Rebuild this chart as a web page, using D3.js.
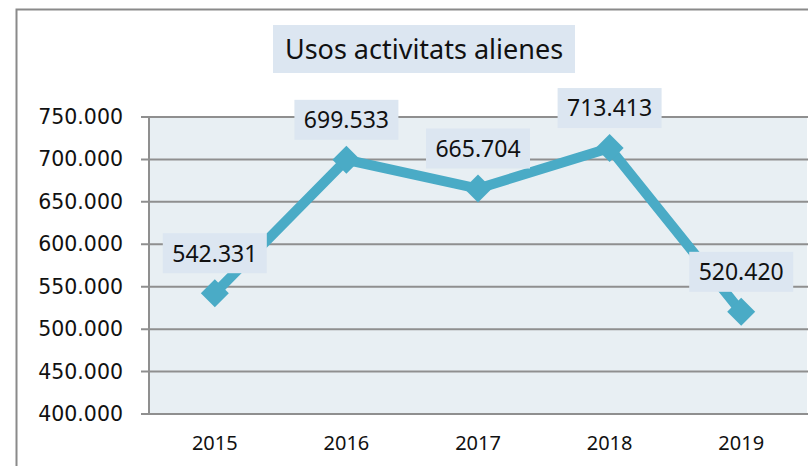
<!DOCTYPE html>
<html>
<head>
<meta charset="utf-8">
<script src="https://cdn.jsdelivr.net/npm/d3@7"></script>
<style>
  body { margin: 0; background: #fff; }
  svg { display: block; }
</style>
</head>
<body>
<script>
var years = ["2015", "2016", "2017", "2018", "2019"];
var usos = [542331, 699533, 665704, 713413, 520420];
var yTicks = [400000, 450000, 500000, 550000, 600000, 650000, 700000, 750000];
var title = "Usos activitats alienes";

var W = 808, H = 466;
var margin = {top: 117, right: 1, bottom: 52, left: 149};

// thousands with a dot, like the original
var fmt = function (v) { return d3.format(",")(v).replace(/,/g, "."); };

var svg = d3.select("body").append("svg")
    .attr("width", W)
    .attr("height", H);

// chart frame (runs off the right/bottom edge)
svg.append("rect")
    .attr("x", 16.5).attr("y", 9.5)
    .attr("width", W + 20).attr("height", H + 20)
    .attr("fill", "#fff")
    .attr("stroke", "#8a8a8a")
    .attr("stroke-width", 2);

var x = d3.scaleBand()
    .domain(years)
    .range([margin.left, W - margin.right]);

var y = d3.scaleLinear()
    .domain([400000, 750000])
    .range([H - margin.bottom, margin.top]);

// plot area
svg.append("rect")
    .attr("x", margin.left).attr("y", margin.top)
    .attr("width", W - margin.right - margin.left)
    .attr("height", y(400000) - y(750000))
    .attr("fill", "#e8eff3");

// gridlines + tick stubs
svg.append("g")
    .selectAll("line")
    .data(yTicks)
    .enter().append("line")
    .attr("x1", margin.left - 8)
    .attr("x2", W)
    .attr("y1", function (d) { return y(d); })
    .attr("y2", function (d) { return y(d); })
    .attr("stroke", "#8f8f8f")
    .attr("stroke-width", 2);

svg.append("line")
    .attr("x1", margin.left).attr("x2", margin.left)
    .attr("y1", y(750000)).attr("y2", y(400000))
    .attr("stroke", "#8f8f8f")
    .attr("stroke-width", 2);

// y labels
var gy = svg.append("g")
    .attr("transform", "translate(" + (margin.left - 26) + ",0)")
    .call(d3.axisLeft(y).tickValues(yTicks).tickSize(0).tickPadding(0).tickFormat(fmt));
gy.select(".domain").remove();
gy.selectAll("text")
    .attr("font-family", "DejaVu Sans")
    .attr("font-size", 20.5)
    .attr("fill", "#111");

// x labels
var gx = svg.append("g")
    .attr("transform", "translate(0," + (y(400000) + 22) + ")")
    .call(d3.axisBottom(x).tickSize(0).tickPadding(0));
gx.select(".domain").remove();
gx.selectAll("text")
    .attr("font-family", "Noto Sans")
    .attr("font-size", 20)
    .attr("fill", "#111");

var data = years.map(function (yr, i) { return {year: yr, value: usos[i]}; });
var cx = function (d) { return x(d.year) + x.bandwidth() / 2; };

var line = d3.line()
    .x(cx)
    .y(function (d) { return y(d.value); });

svg.append("path")
    .datum(data)
    .attr("d", line)
    .attr("fill", "none")
    .attr("stroke", "#4aabc6")
    .attr("stroke-width", 10);

// diamond markers
svg.append("g")
    .selectAll("path")
    .data(data)
    .enter().append("path")
    .attr("d", "M0,-14L14,0L0,14L-14,0Z")
    .attr("transform", function (d) { return "translate(" + cx(d) + "," + y(d.value) + ")"; })
    .attr("fill", "#4aabc6");

// data labels
var lab = svg.append("g")
    .selectAll("g")
    .data(data)
    .enter().append("g")
    .attr("transform", function (d) { return "translate(" + cx(d) + "," + (y(d.value) - 40) + ")"; });

lab.append("rect")
    .attr("x", -52).attr("y", -20)
    .attr("width", 104).attr("height", 40)
    .attr("fill", "#dce6f1");

lab.append("text")
    .attr("text-anchor", "middle")
    .attr("dy", "0.36em")
    .attr("font-family", "Noto Sans")
    .attr("font-size", 23)
    .attr("fill", "#111")
    .text(function (d) { return fmt(d.value); });

// title
var tg = svg.append("g").attr("transform", "translate(424,49)");
tg.append("rect")
    .attr("x", -151).attr("y", -24)
    .attr("width", 302).attr("height", 48)
    .attr("fill", "#dce6f1");
tg.append("text")
    .attr("text-anchor", "middle")
    .attr("dy", "0.36em")
    .attr("font-family", "Noto Sans")
    .attr("font-size", 27)
    .attr("fill", "#111")
    .text(title);
</script>
</body>
</html>
